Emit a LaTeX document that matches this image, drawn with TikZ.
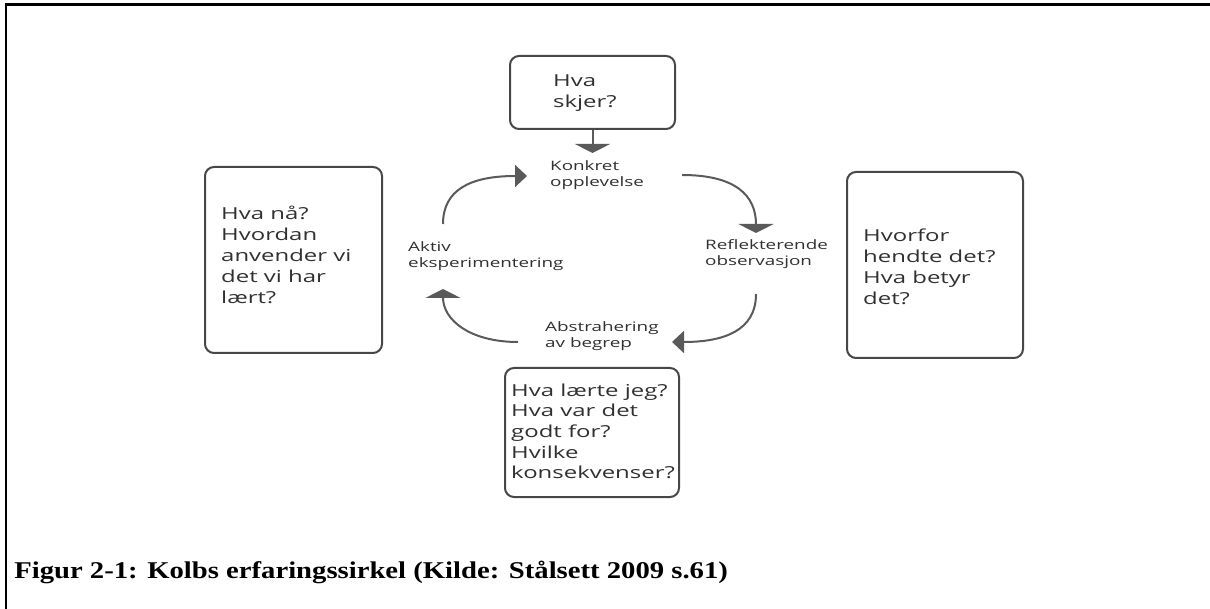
\documentclass[tikz,border=0pt]{standalone}
\usepackage{fontspec}
\setmainfont{Liberation Serif}
\newfontfamily\diagfont[FakeStretch=1.45]{Open Sans}
\usetikzlibrary{arrows.meta}
\definecolor{boxgray}{HTML}{474747}
\definecolor{txtgray}{HTML}{303030}
\definecolor{arrgray}{HTML}{5A5A5A}
\newcommand{\boxfont}{\diagfont\fontsize{16.5}{21}\selectfont}
\newcommand{\boxfonttight}{\diagfont\fontsize{16.5}{20.7}\selectfont}
\newcommand{\lblfont}{\diagfont\fontsize{13}{16}\selectfont}
\newcommand{\capfont}{\bfseries\fontsize{18.5}{22}\selectfont}
\newcommand{\mlines}[1]{\begin{tabular}[t]{@{}l@{}}#1\end{tabular}}
\begin{document}
\begin{tikzpicture}[x=1pt,y=-1pt,
  qbox/.style={draw=boxgray, line width=2pt, rounded corners=9pt, inner sep=0pt},
  qtext/.style={anchor=base west, inner sep=0pt, text=txtgray, font=\boxfont},
  lbl/.style={anchor=base west, inner sep=0pt, text=txtgray, font=\lblfont},
  cyc/.style={draw=arrgray, line width=2pt},
  vhead/.style={-{Triangle[width=35pt,length=9pt]}},
  hhead/.style={-{Triangle[width=22pt,length=12pt]}}]
\useasboundingbox (0,0) rectangle (1210,609);
% outer frame (top and left edges only)
\coordinate (fbl) at (6,609);
\coordinate (ftl) at (6,4.5);
\coordinate (ftr) at (1210,4.5);
\draw[line width=2.3pt] (fbl) -- (ftl) -- (ftr);

% boxes
\node[qbox, minimum width=165pt, minimum height=73pt] (top) at (592.5,92.5) {};
\node[qbox, minimum width=177pt, minimum height=186pt] (left) at (293.5,260) {};
\node[qbox, minimum width=176pt, minimum height=186pt] (right) at (935,265) {};
\node[qbox, minimum width=174pt, minimum height=129pt] (bottom) at (592,432.5) {};

% box texts
\node[qtext] (ttop) at (553,87) {\mlines{Hva\\skjer?}};
\node[qtext] (tleft) at (221,220) {\mlines{Hva nå?\\Hvordan\\anvender vi\\det vi har\\lært?}};
\node[qtext] (tright) at (863,242) {\mlines{Hvorfor\\hendte det?\\Hva betyr\\det?}};
\node[qtext, font=\boxfonttight] (tbottom) at (511,396) {\mlines{Hva lærte jeg?\\Hva var det\\godt for?\\Hvilke\\konsekvenser?}};

% cycle labels
\node[lbl] (konkret) at (550,171) {\mlines{Konkret\\opplevelse}};
\node[lbl] (aktiv) at (408,252) {\mlines{Aktiv\\eksperimentering}};
\node[lbl] (refl) at (705,250) {\mlines{Reflekterende\\observasjon}};
\node[lbl] (abstr) at (545,332) {\mlines{Abstrahering\\av begrep}};

% arrow from top box
\coordinate (a0e) at (592.5,153);
\draw[cyc, vhead] (top.south) -- (a0e);

% cycle arrows
\coordinate (a1s) at (443,224); \coordinate (a1e) at (527,176);
\draw[cyc, hhead] (a1s) .. controls (443,190) and (470,176) .. (a1e);
\coordinate (a2s) at (682,175); \coordinate (a2e) at (756,233);
\draw[cyc, vhead] (a2s) .. controls (735,175) and (756,195) .. (a2e);
\coordinate (a3s) at (756,294); \coordinate (a3e) at (672,342);
\draw[cyc, hhead] (a3s) .. controls (756,330) and (725,342) .. (a3e);
\coordinate (a4s) at (518,342); \coordinate (a4e) at (443,289);
\draw[cyc, vhead] (a4s) .. controls (470,342) and (443,320) .. (a4e);

% caption
\node[anchor=base west, inner sep=0pt, font=\capfont, xscale=1.55, yscale=1.3, transform shape] (cap) at (14,578) {Figur 2-1: Kolbs erfaringssirkel (Kilde: Stålsett 2009 s.61)};
\end{tikzpicture}
\end{document}
